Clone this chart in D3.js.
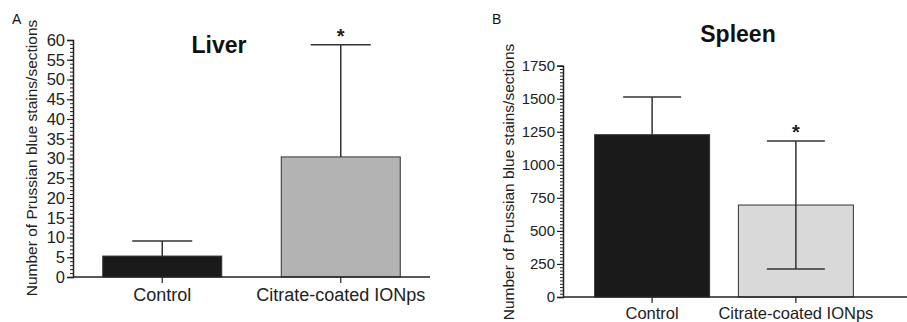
<!DOCTYPE html>
<html>
<head>
<meta charset="utf-8">
<script src="https://cdn.jsdelivr.net/npm/d3@7"></script>
<style>
  body { margin: 0; background: #fff; }
  svg { display: block; font-family: "Liberation Sans", Arial, sans-serif; }
</style>
</head>
<body>
<div id="main"></div>
<script>
// values
const categories = ["Control", "Citrate-coated IONps"];

const liverMeans = [5.3, 30.4];
const liverSD = [3.8, 28.4];
const liverTicks = [0, 5, 10, 15, 20, 25, 30, 35, 40, 45, 50, 55, 60];

const spleenMeans = [1228, 696];
const spleenSD = [285, 484];
const spleenTicks = [0, 250, 500, 750, 1000, 1250, 1500, 1750];

const yLabel = "Number of Prussian blue stains/sections";

const svg = d3.select("#main")
  .append("svg")
  .attr("width", 907)
  .attr("height", 322);

function drawPanel(p) {
  const g = svg.append("g");

  const x = d3.scaleBand()
    .domain(categories)
    .range(p.xRange)
    .paddingInner(p.padIn)
    .paddingOuter(p.padOut);

  const y = d3.scaleLinear()
    .domain([0, p.max])
    .range(p.yRange);

  // minor ticks
  g.append("g")
    .attr("transform", "translate(" + p.xRange[0] + ",0)")
    .call(d3.axisLeft(y).tickValues(d3.range(0, p.max + 0.001, p.minor)).tickSize(3).tickFormat(""))
    .call(a => a.select(".domain").remove())
    .call(a => a.selectAll("line").attr("stroke", "#222").attr("stroke-width", 1));

  // major ticks + labels
  g.append("g")
    .attr("transform", "translate(" + p.xRange[0] + ",0)")
    .call(d3.axisLeft(y).tickValues(p.ticks).tickSize(6).tickPadding(2).tickFormat(d3.format("d")))
    .call(a => a.select(".domain").attr("stroke", "#222").attr("stroke-width", 1.5))
    .call(a => a.selectAll("line").attr("stroke", "#222").attr("stroke-width", 1.2))
    .call(a => a.selectAll("text")
      .attr("fill", "#222")
      .style("font-size", p.tickFont + "px")
      .style("font-family", "Liberation Sans, Arial, sans-serif"));

  // bars
  g.selectAll("rect.bar")
    .data(p.means)
    .enter()
    .append("rect")
    .attr("class", "bar")
    .attr("x", (d, i) => x(categories[i]))
    .attr("y", d => y(d))
    .attr("width", x.bandwidth())
    .attr("height", d => y(0) - y(d))
    .attr("fill", (d, i) => p.colors[i])
    .attr("stroke", "#333")
    .attr("stroke-width", 1);

  // error bars
  p.means.forEach(function(m, i) {
    const cx = x(categories[i]) + x.bandwidth() / 2;
    const up = m + p.sd[i];
    const lo = m - p.sd[i];
    g.append("line")
      .attr("x1", cx).attr("x2", cx)
      .attr("y1", y(p.lower[i] ? lo : m)).attr("y2", y(up))
      .attr("stroke", "#333").attr("stroke-width", 1.5);
    g.append("line")
      .attr("x1", cx - p.cap / 2).attr("x2", cx + p.cap / 2)
      .attr("y1", y(up)).attr("y2", y(up))
      .attr("stroke", "#333").attr("stroke-width", 1.5);
    if (p.lower[i]) {
      g.append("line")
        .attr("x1", cx - p.cap / 2).attr("x2", cx + p.cap / 2)
        .attr("y1", y(lo)).attr("y2", y(lo))
        .attr("stroke", "#333").attr("stroke-width", 1.5);
    }
    if (p.star[i]) {
      g.append("text")
        .attr("x", cx)
        .attr("y", y(up) - p.starGap)
        .attr("text-anchor", "middle")
        .style("font-size", "20px")
        .style("font-weight", "bold")
        .attr("fill", "#222")
        .text("*");
    }
  });

  // x axis line
  g.append("line")
    .attr("x1", p.xRange[0]).attr("x2", p.axisEnd)
    .attr("y1", y(0)).attr("y2", y(0))
    .attr("stroke", "#222").attr("stroke-width", 1.5);

  // x ticks and category labels
  categories.forEach(function(c) {
    const cx = x(c) + x.bandwidth() / 2;
    g.append("line")
      .attr("x1", cx).attr("x2", cx)
      .attr("y1", y(0)).attr("y2", y(0) + 6)
      .attr("stroke", "#222").attr("stroke-width", 1.2);
    g.append("text")
      .attr("x", cx)
      .attr("y", p.catY)
      .attr("text-anchor", "middle")
      .style("font-size", p.catFont + "px")
      .attr("fill", "#222")
      .text(c);
  });

  // y label
  g.append("text")
    .attr("transform", "translate(" + p.yLabX + "," + p.yLabY + ") rotate(-90)")
    .attr("text-anchor", "middle")
    .style("font-size", "15.5px")
    .attr("fill", "#222")
    .text(yLabel);

  // title
  g.append("text")
    .attr("x", p.titleX)
    .attr("y", p.titleY)
    .attr("text-anchor", "middle")
    .style("font-size", "23px")
    .style("font-weight", "bold")
    .attr("fill", "#111")
    .text(p.title);

  // panel letter
  g.append("text")
    .attr("x", p.letterX)
    .attr("y", 24)
    .style("font-size", "14px")
    .attr("fill", "#111")
    .text(p.letter);
}

drawPanel({
  means: liverMeans, sd: liverSD, ticks: liverTicks,
  max: 60, minor: 1,
  xRange: [73, 430], axisEnd: 430, padIn: 1 / 3, padOut: 1 / 6,
  yRange: [277, 40],
  colors: ["#1a1a1a", "#b3b3b3"],
  lower: [false, false], star: [false, true], starGap: 2,
  cap: 60, tickFont: 16.5, catFont: 18, catY: 301,
  yLabX: 37, yLabY: 158,
  title: "Liver", titleX: 219, titleY: 53,
  letter: "A", letterX: 12
});

drawPanel({
  means: spleenMeans, sd: spleenSD, ticks: spleenTicks,
  max: 1750, minor: 25,
  xRange: [563, 885], axisEnd: 907, padIn: 0.2, padOut: 0.22,
  yRange: [297, 65.7],
  colors: ["#1a1a1a", "#d9d9d9"],
  lower: [false, true], star: [false, true], starGap: 2,
  cap: 58, tickFont: 15, catFont: 16.5, catY: 319,
  yLabX: 514, yLabY: 182,
  title: "Spleen", titleX: 738, titleY: 42,
  letter: "B", letterX: 492
});
</script>
</body>
</html>
